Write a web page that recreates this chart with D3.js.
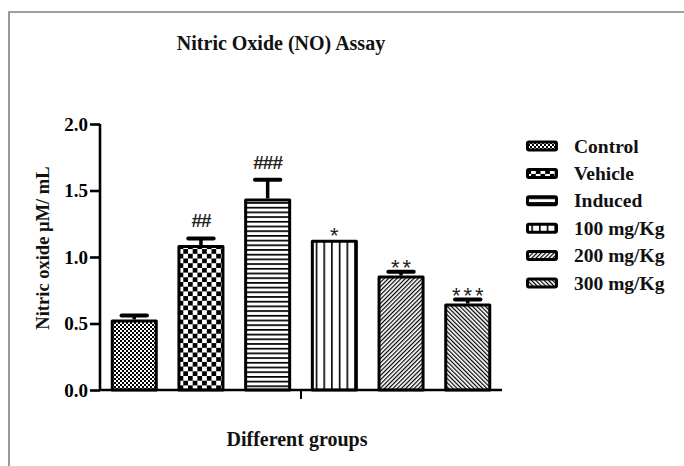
<!DOCTYPE html>
<html><head><meta charset="utf-8">
<script src="https://cdn.jsdelivr.net/npm/d3@7"></script>
<style>
html,body{margin:0;padding:0;background:#fff;}
svg{display:block;}
.serif{font-family:"Liberation Serif","Times New Roman",serif;font-weight:bold;}
</style></head>
<body>
<svg id="chart" width="684" height="466"></svg>
<script>
const categories = ["Control","Vehicle","Induced","100 mg/Kg","200 mg/Kg","300 mg/Kg"];
const means = [0.53, 1.09, 1.44, 1.13, 0.86, 0.65];
const errors = [0.03, 0.05, 0.14, 0.0, 0.03, 0.03];
const marks = ["", "##", "###", "*", "**", "***"];
const yTicks = [0.0, 0.5, 1.0, 1.5, 2.0];
const title = "Nitric Oxide (NO) Assay";
const yLabel = "Nitric oxide \u00b5M/ mL";
const xLabel = "Different groups";

const svg = d3.select("#chart");
const W = 684, H = 466;

// frame
svg.append("path").attr("d", `M9,${H} L9,12 L${W},12`).attr("fill","none")
  .attr("stroke","#808080").attr("stroke-width",1.6);

// patterns
const defs = svg.append("defs");
function pat(id, w, h, draw, transform){
  const p = defs.append("pattern").attr("id", id).attr("patternUnits","userSpaceOnUse")
    .attr("width", w).attr("height", h);
  if (transform) p.attr("patternTransform", transform);
  p.append("rect").attr("width", w).attr("height", h).attr("fill","#fff");
  draw(p);
}
pat("p0", 4, 4, p => { p.append("rect").attr("width",2).attr("height",2).attr("fill","#000");
  p.append("rect").attr("x",2).attr("y",2).attr("width",2).attr("height",2).attr("fill","#000"); });
pat("p1", 9.4, 9.4, p => { p.append("rect").attr("width",4.7).attr("height",4.7).attr("fill","#000");
  p.append("rect").attr("x",4.7).attr("y",4.7).attr("width",4.7).attr("height",4.7).attr("fill","#000"); });
pat("p2", 10, 4.7, p => { p.append("rect").attr("y",0).attr("width",10).attr("height",1.7).attr("fill","#000"); });
pat("p3", 7.7, 10, p => { p.append("rect").attr("x",0).attr("width",1.6).attr("height",10).attr("fill","#000"); });
pat("p4", 3, 10, p => { p.append("rect").attr("width",1.2).attr("height",10).attr("fill","#000"); }, "rotate(45)");
pat("p5", 3, 10, p => { p.append("rect").attr("width",1.2).attr("height",10).attr("fill","#000"); }, "rotate(-45)");
const fills = categories.map((c,i) => `url(#p${i})`);

const x = d3.scaleBand().domain(categories).range([100, 502]).paddingInner(0.295).paddingOuter(0.161);
const y = d3.scaleLinear().domain([0, 2]).range([390, 124]);

// bars
const bw = x.bandwidth();
const g = svg.append("g");
categories.forEach((c, i) => {
  const x0 = x(c);
  if (errors[i] > 0) {
    const cx = x0 + bw/2;
    g.append("line").attr("x1",cx).attr("x2",cx).attr("y1",y(means[i])).attr("y2",y(means[i]+errors[i]))
      .attr("stroke","#000").attr("stroke-width",3.5);
    g.append("line").attr("x1",cx - bw*0.27).attr("x2",cx + bw*0.27)
      .attr("y1",y(means[i]+errors[i])).attr("y2",y(means[i]+errors[i]))
      .attr("stroke","#000").attr("stroke-width",4).attr("stroke-linecap","round");
  }
  g.append("rect").attr("x", x0 + 1.5).attr("y", y(means[i]) + 1.5)
    .attr("width", bw - 3).attr("height", y(0) - y(means[i]) - 1.5)
    .attr("fill", fills[i]).attr("stroke","#000").attr("stroke-width",3).attr("stroke-linejoin","round");
  if (marks[i]) {
    const top = y(means[i] + errors[i]);
    const isHash = marks[i][0] === "#";
    g.append("text").attr("x", x0 + bw/2 + (isHash ? 0 : 1.5)).attr("y", isHash ? top - 11 : top + 3)
      .attr("text-anchor","middle")
      .style("font-family","'Liberation Sans',Arial,sans-serif")
      .style("font-size", isHash ? "19px" : "22px")
      .style("font-weight", isHash ? "bold" : "normal")
      .style("letter-spacing", isHash ? "-1px" : "3px")
      .attr("fill","#222").text(marks[i]);
  }
});

// y axis
const yAxis = svg.append("g").attr("transform","translate(100,0)")
  .call(d3.axisLeft(y).tickValues(yTicks).tickFormat(d3.format(".1f")).tickSize(10).tickPadding(2));
yAxis.select(".domain").attr("stroke","#000").attr("stroke-width",2.6).attr("d","M0,124V391");
yAxis.selectAll(".tick line").attr("stroke","#000").attr("stroke-width",2.6);
yAxis.selectAll(".tick text").attr("class","serif").style("font-size","19px").attr("fill","#000").attr("dy","0.34em");

// x axis
const xAxis = svg.append("g").attr("transform","translate(0,390)");
xAxis.append("line").attr("x1",99).attr("x2",502).attr("y1",0).attr("y2",0).attr("stroke","#000").attr("stroke-width",2.6);
const mid = (x.range()[0] + x.range()[1]) / 2;
xAxis.append("line").attr("x1",mid).attr("x2",mid).attr("y1",0).attr("y2",9).attr("stroke","#000").attr("stroke-width",2);

// texts
svg.append("text").attr("class","serif").attr("x",281).attr("y",50).attr("text-anchor","middle")
  .style("font-size","20px").attr("fill","#111").text(title);
svg.append("text").attr("class","serif").attr("transform","translate(49,248) rotate(-90)")
  .attr("text-anchor","middle").style("font-size","18.5px").attr("fill","#111").text(yLabel);
svg.append("text").attr("class","serif").attr("x",297).attr("y",446).attr("text-anchor","middle")
  .style("font-size","20px").attr("fill","#111").text(xLabel);

// legend
const lg = svg.append("g");
categories.forEach((c, i) => {
  const cy = 146 + i * 27.4;
  lg.append("rect").attr("x",527.5).attr("y",cy - 4).attr("width",29).attr("height",8)
    .attr("rx",1.5).attr("fill",fills[i]).attr("stroke","#000").attr("stroke-width",3);
  lg.append("text").attr("class","serif").attr("x",574).attr("y",cy + 6.5)
    .style("font-size","19.5px").attr("fill","#111").text(c);
});
</script>
</body></html>
